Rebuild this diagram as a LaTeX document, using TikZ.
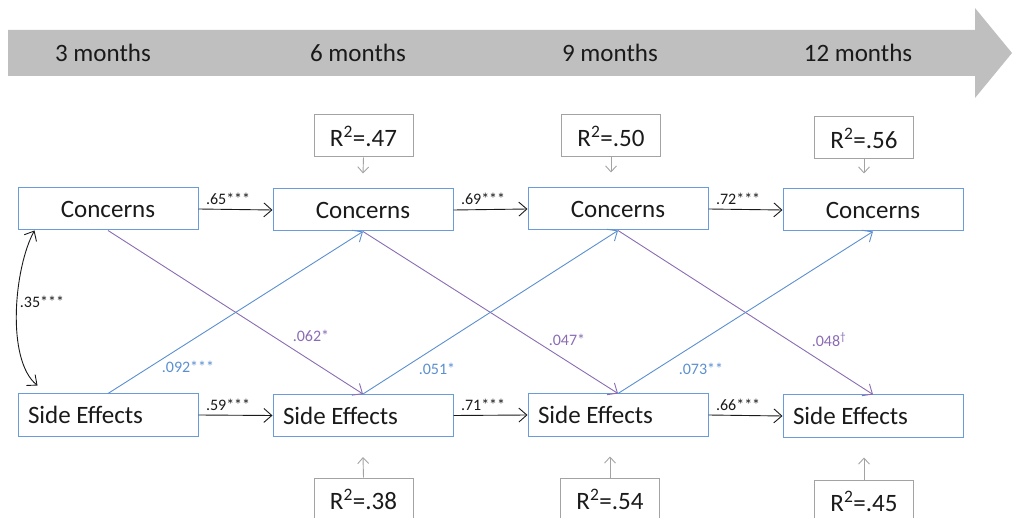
\documentclass[tikz,border=0pt]{standalone}
\usepackage{fontspec}
\setmainfont{Carlito}
\usetikzlibrary{arrows.meta}
\definecolor{boxblue}{HTML}{6A9BDB}
\definecolor{pathblue}{HTML}{5B8FD0}
\definecolor{pathpurple}{HTML}{8A6CB4}
\definecolor{bandgray}{HTML}{BFBFBF}
\definecolor{rgray}{HTML}{A3A3A3}
\definecolor{ink}{HTML}{1A1A1A}
\newcommand{\lefttext}[1]{\makebox[160pt][l]{#1}}
\begin{document}
\begin{tikzpicture}[x=1pt,y=-1pt,
  varbox/.style={draw=boxblue, line width=1pt, minimum width=180, minimum height=42,
    inner xsep=10, inner ysep=0, font=\fontsize{25}{30}\selectfont, text=ink},
  ctrbox/.style={varbox},
  lftbox/.style={varbox},
  rbox/.style={draw=rgray, line width=1pt, minimum width=99, minimum height=42,
    inner sep=0, font=\fontsize{25}{30}\selectfont, text=ink},
  month/.style={font=\fontsize{25}{30}\selectfont, text=ink},
  coef/.style={font=\fontsize{16}{19}\selectfont, text=ink},
  tip/.style={-{Straight Barb[length=8pt,width=14pt]}},
  stab/.style={tip, draw=ink, line width=0.9pt},
  cross/.style={tip, line width=0.9pt},
  rarrow/.style={-{Straight Barb[length=6pt,width=11pt]}, draw=rgray, line width=0.9pt}
]
\useasboundingbox (0,0) rectangle (1012,518);

% time band
\fill[bandgray] (8,30) -- (975,30) -- (975,8) -- (1012,53) -- (975,98) -- (975,76) -- (8,76) -- cycle;
\node[month] (m3) at (103,53) {3 months};
\node[month] (m6) at (358,53) {6 months};
\node[month] (m9) at (610,53) {9 months};
\node[month] (m12) at (858,53) {12 months};

% variables
\node[ctrbox] (c1) at (108,209) {Concerns};
\node[ctrbox] (c2) at (363,210) {Concerns};
\node[ctrbox] (c3) at (618,209) {Concerns};
\node[ctrbox] (c4) at (873,210) {Concerns};
\node[lftbox] (s1) at (108,415) {\lefttext{Side Effects}};
\node[lftbox] (s2) at (363,415.5) {\lefttext{Side Effects}};
\node[lftbox] (s3) at (618,415) {\lefttext{Side Effects}};
\node[lftbox] (s4) at (873,416) {\lefttext{Side Effects}};

% explained variance
\node[rbox] (r1) at (363.5,136) {R\textsuperscript{2}=.47};
\node[rbox] (r2) at (611,136) {R\textsuperscript{2}=.50};
\node[rbox] (r3) at (864,138) {R\textsuperscript{2}=.56};
\node[rbox] (r4) at (363.5,499) {R\textsuperscript{2}=.38};
\node[rbox] (r5) at (610,499) {R\textsuperscript{2}=.54};
\node[rbox] (r6) at (864,501) {R\textsuperscript{2}=.45};
\draw[rarrow] (r1.south) -- ([yshift=15]c2.north);
\draw[rarrow] (r2.south) -- ([xshift=-7,yshift=15]c3.north);
\draw[rarrow] (r3.south) -- ([xshift=-9,yshift=15]c4.north);
\draw[rarrow] (r4.north) -- ([yshift=-20]s2.south);
\draw[rarrow] (r5.north) -- ([xshift=-8,yshift=-20]s3.south);
\draw[rarrow] (r6.north) -- ([xshift=-9,yshift=-20]s4.south);

% stability paths
\draw[stab] (c1.east) -- (c2.west) node[coef, pos=0.4, above=1pt] (l1) {.65***};
\draw[stab] (c2.east) -- (c3.west) node[coef, pos=0.4, above=1pt] (l2) {.69***};
\draw[stab] (c3.east) -- (c4.west) node[coef, pos=0.4, above=1pt] (l3) {.72***};
\draw[stab] (s1.east) -- (s2.west) node[coef, pos=0.4, above=1pt] (l4) {.59***};
\draw[stab] (s2.east) -- (s3.west) node[coef, pos=0.4, above=1pt] (l5) {.71***};
\draw[stab] (s3.east) -- (s4.west) node[coef, pos=0.4, above=1pt] (l6) {.66***};

% cross-lagged paths
\draw[cross, pathpurple] (c1.south) -- (s2.north);
\draw[cross, pathpurple] (c2.south) -- (s3.north);
\draw[cross, pathpurple] (c3.south) -- (s4.north);
\draw[cross, pathblue] (s1.north) -- (c2.south);
\draw[cross, pathblue] (s2.north) -- (c3.south);
\draw[cross, pathblue] (s3.north) -- (c4.south);
\node[coef, text=pathpurple] (p1) at (311,336) {.062*};
\node[coef, text=pathpurple] (p2) at (567,340) {.047*};
\node[coef, text=pathpurple] (p3) at (829,340) {.048\textsuperscript{\dag}};
\node[coef, text=pathblue] (b1) at (188,367) {.092***};
\node[coef, text=pathblue] (b2) at (437,369) {.051*};
\node[coef, text=pathblue] (b3) at (701,369) {.073**};

% baseline correlation
\coordinate (cc) at ([xshift=17]c1.south west);
\coordinate (sc) at ([xshift=20,yshift=8]s1.north west);
\draw[{Straight Barb[length=8pt,width=14pt]}-{Straight Barb[length=8pt,width=14pt]}, draw=ink, line width=0.9pt]
  (cc) .. controls (14,268) and (6,360) .. (sc);
\node[coef] (cor) at (42,302) {.35***};
\end{tikzpicture}
\end{document}
